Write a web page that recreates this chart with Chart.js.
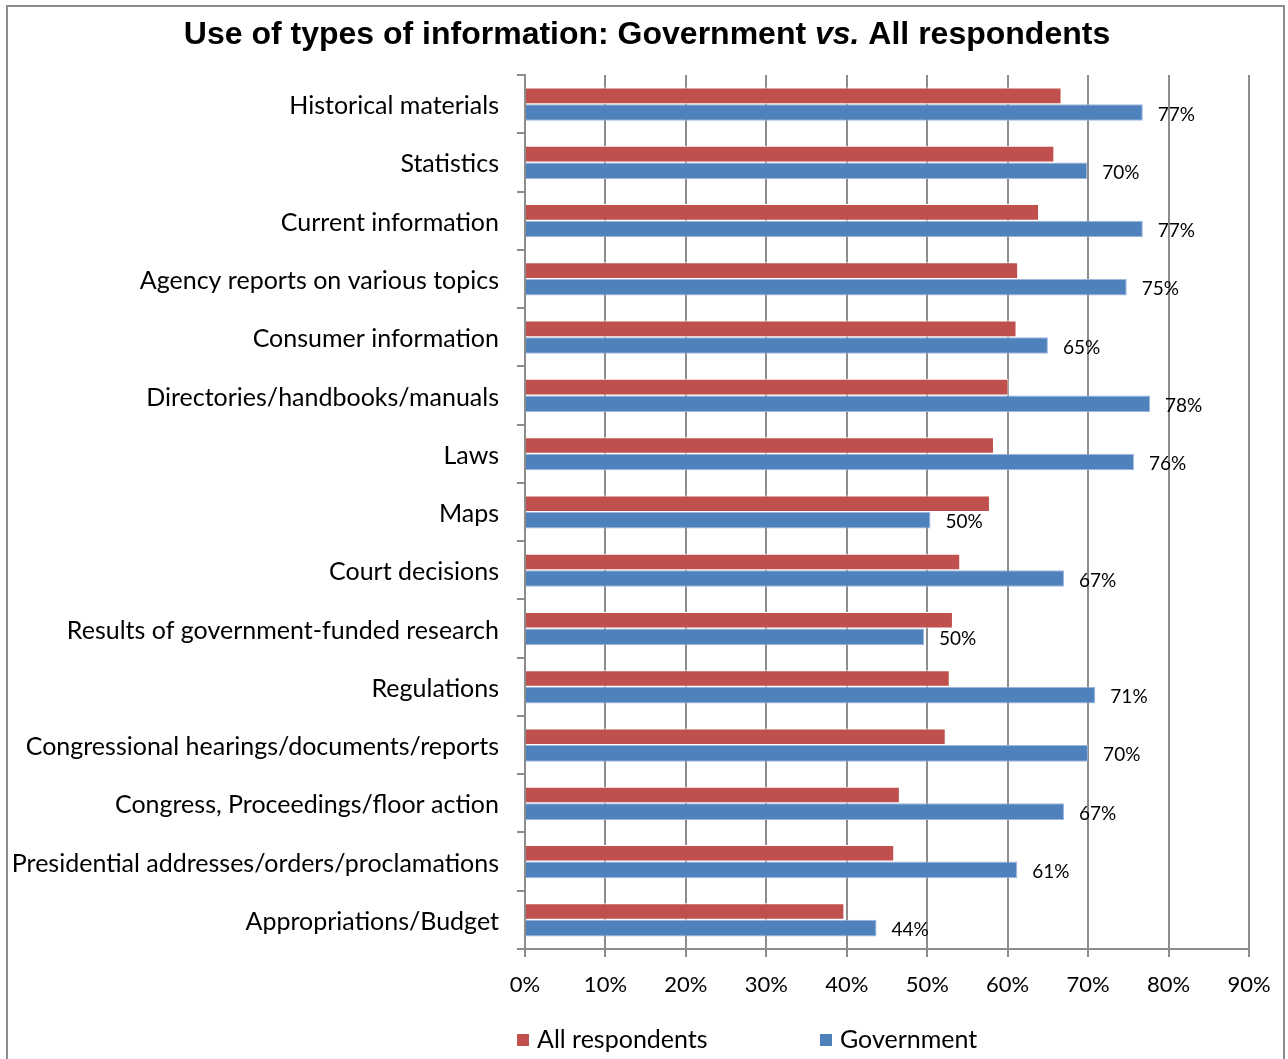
<!DOCTYPE html>
<html>
<head>
<meta charset="utf-8">
<title>Use of types of information</title>
<script src="https://cdn.jsdelivr.net/npm/chart.js"></script>
<style>
    body {
        margin: 0;
        background: #ffffff;
        overflow: hidden;
    }

    .frame {
        position: absolute;
        left: 6px;
        top: 5px;
        width: 1279px;
        height: 1100px;
        border: 2px solid #8c8c8c;
        box-sizing: border-box;
    }

    #wrap {
        position: absolute;
        left: 0;
        top: 0;
        width: 1288px;
        height: 1059px;
    }
</style>
</head>
<body>
<div class="frame"></div>
<div id="wrap"><canvas id="infoChart"></canvas></div>

<script>
    // Categories, top to bottom
    const categories = [
        'Historical materials',
        'Statistics',
        'Current information',
        'Agency reports on various topics',
        'Consumer information',
        'Directories/handbooks/manuals',
        'Laws',
        'Maps',
        'Court decisions',
        'Results of government-funded research',
        'Regulations',
        'Congressional hearings/documents/reports',
        'Congress, Proceedings/floor action',
        'Presidential addresses/orders/proclamations',
        'Appropriations/Budget'
    ];

    // Percent of respondents using each type
    const allRespondents = [66.7, 65.8, 63.9, 61.3, 61.1, 60.1, 58.3, 57.8, 54.1, 53.2, 52.8, 52.3, 46.6, 45.9, 39.7];
    const government = [76.8, 69.9, 76.8, 74.8, 65.0, 77.7, 75.7, 50.4, 67.0, 49.6, 70.9, 70.0, 67.0, 61.2, 43.7];

    const seriesNames = ['All respondents', 'Government'];
    const seriesColors = ['#c0504d', '#4f81bd'];

    const xMin = 0;
    const xMax = 90;
    const xStep = 10;

    const gridColor = '#8c8c8c';
    const fontFamily = 'Lato, "Open Sans", sans-serif';

    // Title with the italic "vs."
    const titlePlugin = {
        id: 'mixedTitle',
        afterDraw(chart) {
            const ctx = chart.ctx;
            const parts = [
                { text: 'Use of types of information: Government ', style: 'bold' },
                { text: 'vs.', style: 'italic bold' },
                { text: ' All respondents', style: 'bold' }
            ];
            const size = 32;
            ctx.save();
            ctx.fillStyle = '#000';
            ctx.textBaseline = 'middle';
            ctx.textAlign = 'left';
            let total = 0;
            parts.forEach(p => {
                ctx.font = p.style + ' ' + size + 'px "Liberation Sans", Arial, sans-serif';
                p.w = ctx.measureText(p.text).width;
                total += p.w;
            });
            let x = 647 - total / 2;
            parts.forEach(p => {
                ctx.font = p.style + ' ' + size + 'px "Liberation Sans", Arial, sans-serif';
                ctx.fillText(p.text, x, 35);
                x += p.w;
            });
            ctx.restore();
        }
    };

    // Percent labels at the end of the Government bars
    const valueLabels = {
        id: 'valueLabels',
        afterDatasetsDraw(chart) {
            const ctx = chart.ctx;
            const meta = chart.getDatasetMeta(1);
            ctx.save();
            ctx.font = '19px ' + fontFamily;
            ctx.fillStyle = '#000';
            ctx.textAlign = 'left';
            ctx.textBaseline = 'middle';
            meta.data.forEach((bar, i) => {
                const v = chart.data.datasets[1].data[i];
                ctx.fillText(Math.round(v) + '%', bar.x + 15, bar.y + 2);
            });
            ctx.restore();
        }
    };

    // Legend along the bottom
    const bottomLegend = {
        id: 'bottomLegend',
        afterDraw(chart) {
            const ctx = chart.ctx;
            const left = chart.chartArea.left - 8;
            const y = 1040;
            ctx.save();
            ctx.font = '25px ' + fontFamily;
            ctx.textBaseline = 'middle';
            ctx.textAlign = 'left';
            chart.data.datasets.forEach((ds, i) => {
                const x = left + i * 303;
                ctx.fillStyle = ds.backgroundColor;
                ctx.fillRect(x, y - 6, 12, 12);
                ctx.fillStyle = '#000';
                ctx.fillText(ds.label, x + 20, y);
            });
            ctx.restore();
        }
    };

    const ctx = document.getElementById('infoChart').getContext('2d');
    new Chart(ctx, {
        type: 'bar',
        data: {
            labels: categories,
            datasets: [
                {
                    label: seriesNames[0],
                    data: allRespondents,
                    backgroundColor: seriesColors[0],
                    borderColor: '#ffffff',
                    borderWidth: 1
                },
                {
                    label: seriesNames[1],
                    data: government,
                    backgroundColor: seriesColors[1],
                    borderColor: '#9db7dc',
                    borderWidth: 1
                }
            ]
        },
        options: {
            indexAxis: 'y',
            responsive: true,
            maintainAspectRatio: false,
            animation: false,
            categoryPercentage: 0.57,
            barPercentage: 1.0,
            layout: {
                padding: { top: 75, left: 0, right: 39, bottom: 42 }
            },
            plugins: {
                legend: { display: false },
                title: { display: false },
                tooltip: { enabled: false }
            },
            scales: {
                x: {
                    min: xMin,
                    max: xMax,
                    ticks: {
                        stepSize: xStep,
                        color: '#000',
                        padding: 15,
                        maxRotation: 0,
                        font: { family: fontFamily, size: 22 },
                        callback: v => v + '%'
                    },
                    grid: {
                        color: gridColor,
                        lineWidth: 2,
                        tickLength: 8
                    },
                    border: { color: gridColor, width: 2 },
                    afterFit: scale => { scale.height = 68; }
                },
                y: {
                    ticks: {
                        color: '#000',
                        padding: 18,
                        labelOffset: 2,
                        autoSkip: false,
                        font: { family: fontFamily, size: 25 }
                    },
                    grid: {
                        color: gridColor,
                        lineWidth: 2,
                        drawOnChartArea: false,
                        tickLength: 8
                    },
                    border: { color: gridColor, width: 2 },
                    afterFit: scale => { scale.width = 525; }
                }
            }
        },
        plugins: [titlePlugin, valueLabels, bottomLegend]
    });
</script>
</body>
</html>
